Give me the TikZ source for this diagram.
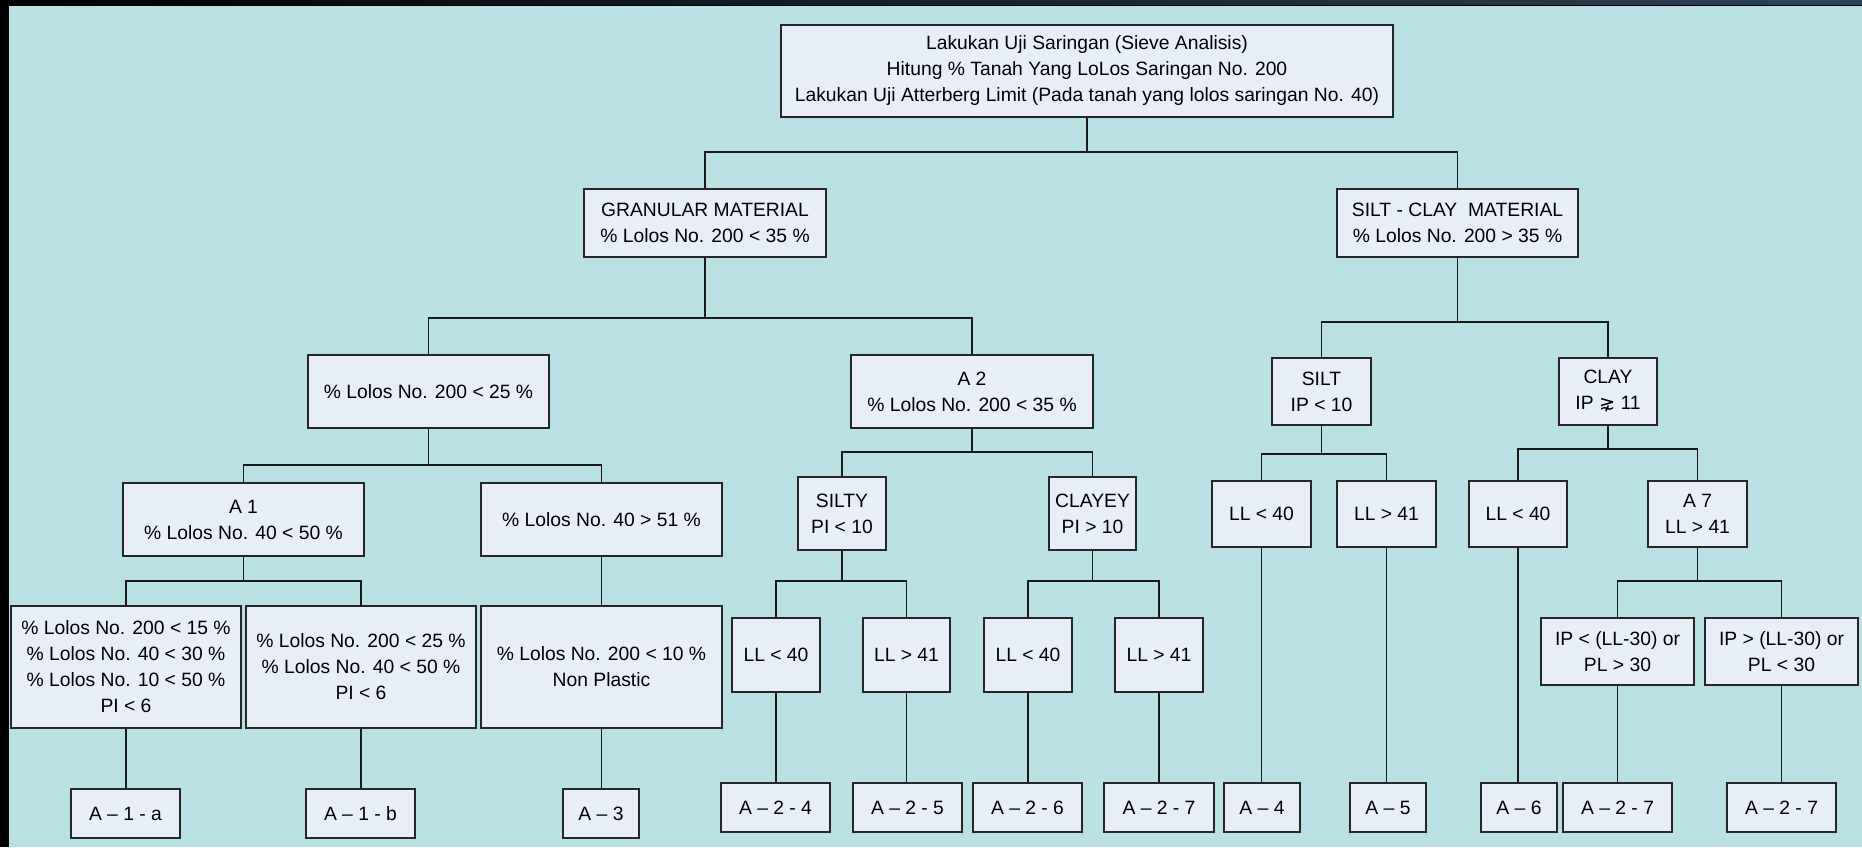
\documentclass[tikz,border=0pt]{standalone}
\usepackage{fontspec}
\setmainfont{Liberation Sans}
\newfontfamily\djv{DejaVu Sans}
\definecolor{bgc}{HTML}{B9E0E3}
\definecolor{boxc}{HTML}{E8EEF8}
\definecolor{bandc}{HTML}{2D4458}
\tikzset{
  box/.style={draw=black!85, fill=boxc, line width=1.3pt, inner sep=2pt, align=center,
    font=\fontsize{19.3}{26}\selectfont},
  conn/.style={draw=black!90, line width=1.2pt},
}
\newcommand\elbow[4]{%
  \draw[conn] (#1.south) -- (#1.south |- 0,#2) -| (#3.north);
  \draw[conn] (#1.south |- 0,#2) -| (#4.north);}
\newcommand\straight[2]{\draw[conn] (#1.south) -- (#1.south |- #2.north);}
\begin{document}
\begin{tikzpicture}[x=1pt,y=-1pt]
\useasboundingbox (0,0) rectangle (1862,847);
\fill[bgc] (0,0) rectangle (1862,847);
\shade[left color=black, right color=bandc] (0,0) rectangle (1862,5);
\fill[black] (0,4.5) rectangle (1862,6);
\fill[black] (0,0) rectangle (9,847);

% level 1
\node[box, minimum width=612pt, minimum height=92pt] (top) at (1087,71)
  {Lakukan Uji Saringan (Sieve Analisis)\\Hitung \% Tanah Yang LoLos Saringan No. 200\\Lakukan Uji Atterberg Limit (Pada tanah yang lolos saringan No. 40)};

% level 2
\node[box, minimum width=242pt, minimum height=68pt] (gran) at (705,223)
  {GRANULAR MATERIAL\\\% Lolos No. 200 < 35 \%};
\node[box, minimum width=241pt, minimum height=68pt] (sc) at (1457.5,223)
  {SILT - CLAY\ \ MATERIAL\\\% Lolos No. 200 > 35 \%};

% level 3
\node[box, minimum width=241pt, minimum height=73pt] (lt25) at (428.5,391.5)
  {\% Lolos No. 200 < 25 \%};
\node[box, minimum width=242pt, minimum height=73pt] (a2) at (972,391.5)
  {A 2\\\% Lolos No. 200 < 35 \%};
\node[box, minimum width=99pt, minimum height=67pt] (silt) at (1321.5,391.5)
  {SILT\\IP < 10};
\node[box, minimum width=98pt, minimum height=67pt] (clay) at (1608,391.5)
  {CLAY\\IP {\djv ⋧} 11};

% level 4
\node[box, minimum width=241pt, minimum height=73pt] (a1) at (243.5,519.5)
  {A 1\\\% Lolos No. 40 < 50 \%};
\node[box, minimum width=241pt, minimum height=73pt] (gt51) at (601.5,519.5)
  {\% Lolos No. 40 > 51 \%};
\node[box, minimum width=88pt, minimum height=73pt] (silty) at (842,513.5)
  {SILTY\\PI < 10};
\node[box, minimum width=87pt, minimum height=73pt] (clayey) at (1092.5,513.5)
  {CLAYEY\\PI > 10};
\node[box, minimum width=99pt, minimum height=66pt] (sll40) at (1261.5,514) {LL < 40};
\node[box, minimum width=99pt, minimum height=66pt] (sll41) at (1386.5,514) {LL > 41};
\node[box, minimum width=98pt, minimum height=66pt] (cll40) at (1518,514) {LL < 40};
\node[box, minimum width=99pt, minimum height=66pt] (a7) at (1697.5,514) {A 7\\LL > 41};

% level 5
\node[box, minimum width=230pt, minimum height=122pt] (a1ac) at (126,667)
  {\% Lolos No. 200 < 15 \%\\\% Lolos No. 40 < 30 \%\\\% Lolos No. 10 < 50 \%\\PI < 6};
\node[box, minimum width=230pt, minimum height=122pt] (a1bc) at (361,667)
  {\% Lolos No. 200 < 25 \%\\\% Lolos No. 40 < 50 \%\\PI < 6};
\node[box, minimum width=241pt, minimum height=122pt] (a3c) at (601.5,667)
  {\% Lolos No. 200 < 10 \%\\Non Plastic};
\node[box, minimum width=88pt, minimum height=74pt] (syll40) at (776,655) {LL < 40};
\node[box, minimum width=87pt, minimum height=74pt] (syll41) at (906.5,655) {LL > 41};
\node[box, minimum width=88pt, minimum height=74pt] (cyll40) at (1028,655) {LL < 40};
\node[box, minimum width=88pt, minimum height=74pt] (cyll41) at (1159,655) {LL > 41};
\node[box, minimum width=153pt, minimum height=67pt] (ipl) at (1617.5,651.5)
  {IP < (LL-30) or\\PL > 30};
\node[box, minimum width=153pt, minimum height=67pt] (ipg) at (1781.5,651.5)
  {IP > (LL-30) or\\PL < 30};

% results
\node[box, minimum width=109pt, minimum height=49pt] (r1a) at (125.5,813.5) {A – 1 - a};
\node[box, minimum width=109pt, minimum height=49pt] (r1b) at (360.5,813.5) {A – 1 - b};
\node[box, minimum width=76pt, minimum height=49pt] (r3) at (601,813.5) {A – 3};
\node[box, minimum width=109pt, minimum height=49pt] (r24) at (775.5,807.5) {A – 2 - 4};
\node[box, minimum width=109pt, minimum height=49pt] (r25) at (907.5,807.5) {A – 2 - 5};
\node[box, minimum width=109pt, minimum height=49pt] (r26) at (1027.5,807.5) {A – 2 - 6};
\node[box, minimum width=110pt, minimum height=49pt] (r27a) at (1159,807.5) {A – 2 - 7};
\node[box, minimum width=76pt, minimum height=49pt] (r4) at (1262,807.5) {A – 4};
\node[box, minimum width=76pt, minimum height=49pt] (r5) at (1388,807.5) {A – 5};
\node[box, minimum width=76pt, minimum height=49pt] (r6) at (1519,807.5) {A – 6};
\node[box, minimum width=109pt, minimum height=49pt] (r27b) at (1617.5,807.5) {A – 2 - 7};
\node[box, minimum width=109pt, minimum height=49pt] (r27c) at (1781.5,807.5) {A – 2 - 7};

% connectors
\elbow{top}{152}{gran}{sc}
\elbow{gran}{318}{lt25}{a2}
\elbow{sc}{322}{silt}{clay}
\elbow{lt25}{465}{a1}{gt51}
\elbow{a2}{452}{silty}{clayey}
\elbow{silt}{454}{sll40}{sll41}
\elbow{clay}{449}{cll40}{a7}
\elbow{a1}{581}{a1ac}{a1bc}
\straight{gt51}{a3c}
\elbow{silty}{581}{syll40}{syll41}
\elbow{clayey}{581}{cyll40}{cyll41}
\elbow{a7}{581}{ipl}{ipg}
\straight{a1ac}{r1a}
\straight{a1bc}{r1b}
\straight{a3c}{r3}
\straight{syll40}{r24}
\straight{syll41}{r25}
\straight{cyll40}{r26}
\straight{cyll41}{r27a}
\straight{sll40}{r4}
\straight{sll41}{r5}
\straight{cll40}{r6}
\straight{ipl}{r27b}
\straight{ipg}{r27c}
\end{tikzpicture}
\end{document}
